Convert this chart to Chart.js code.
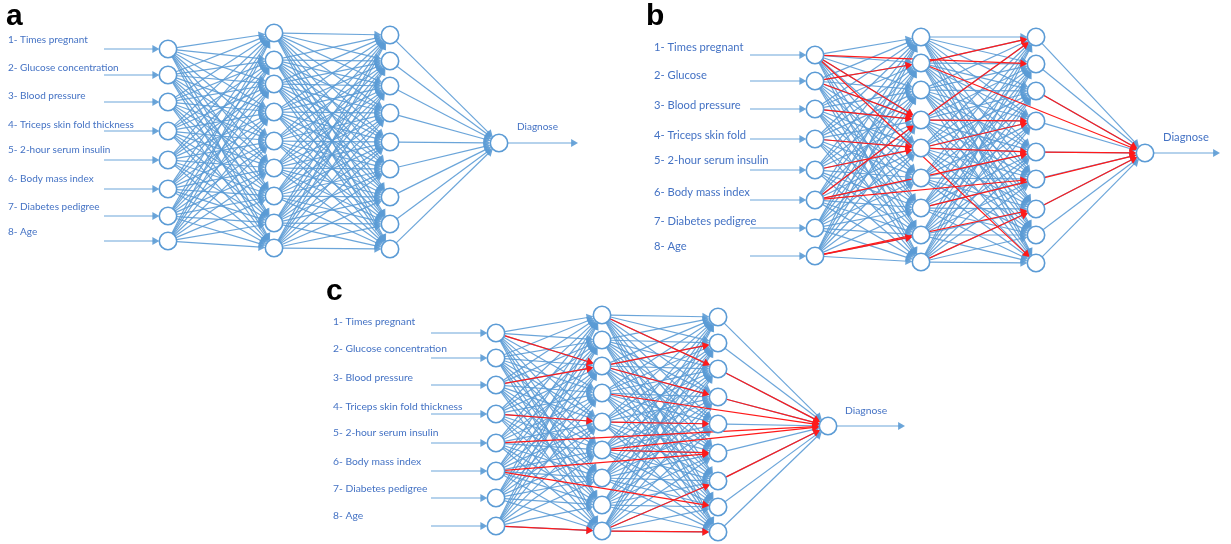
<!DOCTYPE html>
<html>
<head>
<meta charset="utf-8">
<script src="https://cdn.jsdelivr.net/npm/chart.js@4.4.0/dist/chart.umd.min.js"></script>
<style>
  html, body { margin: 0; padding: 0; background: #fff; }
  #wrap { width: 1231px; height: 544px; }
</style>
</head>
<body>
<div id="wrap"><canvas id="net" width="1231" height="544"></canvas></div>
<script>
// ---- input names ----
const labelsLong = ["1- Times pregnant", "2- Glucose concentration", "3- Blood pressure",
  "4- Triceps skin fold thickness", "5- 2-hour serum insulin", "6- Body mass index",
  "7- Diabetes pedigree", "8- Age"];
const labelsShort = ["1- Times pregnant", "2- Glucose", "3- Blood pressure",
  "4- Triceps skin fold", "5- 2-hour serum insulin", "6- Body mass index",
  "7- Diabetes pedigree", "8- Age"];
const outputName = "Diagnose";

// ---- panel a: layer x, node y per layer, label rows ----
const aLayerX = [168, 274, 390, 499];
const aNodeY = [
  [49, 75, 102, 131, 160, 189, 216, 241],
  [33, 60, 84, 112, 141, 168, 196, 223, 248],
  [35, 61, 86, 113, 142, 169, 197, 224, 249],
  [143]
];
const aLabelY = [40, 68, 96, 125, 150, 179, 207, 232];

// ---- panel b ----
const bLayerX = [815, 921, 1036, 1145];
const bNodeY = [
  [55, 81, 109, 139, 170, 200, 228, 256],
  [37, 63, 90, 120, 148, 178, 208, 235, 262],
  [37, 64, 91, 121, 152, 179, 209, 235, 263],
  [153]
];
const bLabelY = [47, 75, 105, 135, 160, 192, 221, 246];

// ---- panel c ----
const cLayerX = [496, 602, 718, 828];
const cNodeY = [
  [333, 358, 385, 414, 443, 471, 498, 526],
  [315, 340, 366, 393, 422, 450, 478, 505, 531],
  [317, 343, 369, 397, 424, 453, 481, 507, 532],
  [426]
];
const cLabelY = [322, 349, 378, 407, 433, 462, 489, 516];

// highlighted (red) connections: [fromLayer, fromNode, toLayer, toNode]
const bRed = [
  [0,0,2,1],[0,0,1,3],[0,0,2,8],[0,1,1,1],[0,1,1,3],[0,2,1,3],[0,3,1,4],[0,4,1,4],
  [0,5,1,3],[0,5,2,4],[0,5,2,5],[0,7,2,6],[0,7,1,7],
  [1,1,2,0],[1,1,3,0],[1,3,2,0],[1,3,2,3],[1,4,2,3],[1,4,2,4],[1,6,3,0],[1,8,2,6],
  [2,2,3,0],[2,4,3,0],[2,6,3,0]
];
const cRed = [
  [0,0,1,2],[0,2,1,2],[0,3,1,4],[0,4,3,0],[0,5,2,5],[0,5,2,7],[0,7,1,8],
  [1,0,2,2],[1,2,2,1],[1,2,2,3],[1,3,3,0],[1,4,2,4],[1,5,2,5],[1,5,3,0],[1,8,2,8],[1,8,2,6],
  [2,2,3,0],[2,3,3,0],[2,6,3,0]
];

const panels = [
  { letter: "a", letterX: 6, letterY: 25, labels: labelsLong, labelX: 8, labelY: aLabelY, labelPx: 10,
    layerX: aLayerX, nodeY: aNodeY, inStart: 104, outEnd: 578, diagX: 517, diagY: 127, red: [] },
  { letter: "b", letterX: 646, letterY: 25, labels: labelsShort, labelX: 654, labelY: bLabelY, labelPx: 11.2,
    layerX: bLayerX, nodeY: bNodeY, inStart: 750, outEnd: 1220, diagX: 1163, diagY: 137, red: bRed },
  { letter: "c", letterX: 326, letterY: 300, labels: labelsLong, labelX: 333, labelY: cLabelY, labelPx: 10.3,
    layerX: cLayerX, nodeY: cNodeY, inStart: 431, outEnd: 905, diagX: 845, diagY: 411, red: cRed }
];

const NODE_R = 8.7;
const TIP = 4.6;
const BLUE = "rgba(91,155,213,0.9)";
const NODE_BLUE = "#5b9bd5";
const RED = "#ff1a1a";
const TEXT_BLUE = "#4472c4";

// one dataset per connection; arrow head is the triangle point at its end
function edge(x1, y1, x2, y2, color, fromNode, toNode) {
  const dx = x2 - x1, dy = y2 - y1, len = Math.hypot(dx, dy);
  const ux = dx / len, uy = dy / len;
  const s = fromNode ? NODE_R : 0;
  const e = (toNode ? NODE_R : 0) + TIP;
  const rot = Math.atan2(dx, -dy) * 180 / Math.PI;
  return {
    data: [{ x: x1 + ux * s, y: y1 + uy * s }, { x: x2 - ux * e, y: y2 - uy * e }],
    showLine: true,
    borderColor: color,
    borderWidth: 1.2,
    pointRadius: [0, TIP],
    pointHoverRadius: 0,
    pointStyle: "triangle",
    pointRotation: [0, rot],
    pointBackgroundColor: color,
    pointBorderColor: color,
    pointBorderWidth: 0,
    clip: false
  };
}

const nodeSets = [], redSets = [], blueSets = [];
panels.forEach(p => {
  const pos = (l, i) => ({ x: p.layerX[l], y: p.nodeY[l][i] });
  // inputs coming in
  p.nodeY[0].forEach(y => blueSets.push(edge(p.inStart, y, p.layerX[0], y, BLUE, false, true)));
  // fully connected layers
  for (let l = 0; l < 3; l++) {
    p.nodeY[l].forEach((_, i) => p.nodeY[l + 1].forEach((_, j) => {
      const a = pos(l, i), b = pos(l + 1, j);
      blueSets.push(edge(a.x, a.y, b.x, b.y, BLUE, true, true));
    }));
  }
  // output going out
  const o = pos(3, 0);
  blueSets.push(edge(o.x, o.y, p.outEnd, o.y, BLUE, true, false));
  // red paths
  p.red.forEach(r => {
    const a = pos(r[0], r[1]), b = pos(r[2], r[3]);
    redSets.push(edge(a.x, a.y, b.x, b.y, RED, true, true));
  });
  // nodes
  const pts = [];
  p.nodeY.forEach((ys, l) => ys.forEach(y => pts.push({ x: p.layerX[l], y: y })));
  nodeSets.push({
    data: pts,
    showLine: false,
    pointRadius: NODE_R,
    pointHoverRadius: NODE_R,
    pointBackgroundColor: "#fff",
    pointBorderColor: NODE_BLUE,
    pointBorderWidth: 1.6,
    clip: false
  });
});

const textPlugin = {
  id: "netText",
  afterDatasetsDraw(chart) {
    const { ctx, scales: { x, y } } = chart;
    ctx.save();
    panels.forEach(p => {
      ctx.fillStyle = TEXT_BLUE;
      ctx.textBaseline = "middle";
      ctx.textAlign = "left";
      ctx.font = p.labelPx + "px Lato";
      p.labels.forEach((t, i) => ctx.fillText(t, x.getPixelForValue(p.labelX), y.getPixelForValue(p.labelY[i])));
      ctx.fillText(outputName, x.getPixelForValue(p.diagX), y.getPixelForValue(p.diagY));
      ctx.fillStyle = "#000";
      ctx.textBaseline = "alphabetic";
      ctx.font = "bold 30px 'Liberation Sans'";
      ctx.fillText(p.letter, x.getPixelForValue(p.letterX), y.getPixelForValue(p.letterY));
    });
    ctx.restore();
  }
};

new Chart(document.getElementById("net"), {
  type: "scatter",
  data: { datasets: [...nodeSets, ...redSets, ...blueSets] },
  options: {
    responsive: false,
    animation: false,
    events: [],
    layout: { padding: 0, autoPadding: false },
    scales: {
      x: { type: "linear", min: 0, max: 1231, display: false },
      y: { type: "linear", min: 0, max: 544, reverse: true, display: false }
    },
    plugins: { legend: { display: false }, tooltip: { enabled: false } }
  },
  plugins: [textPlugin]
});
</script>
</body>
</html>
